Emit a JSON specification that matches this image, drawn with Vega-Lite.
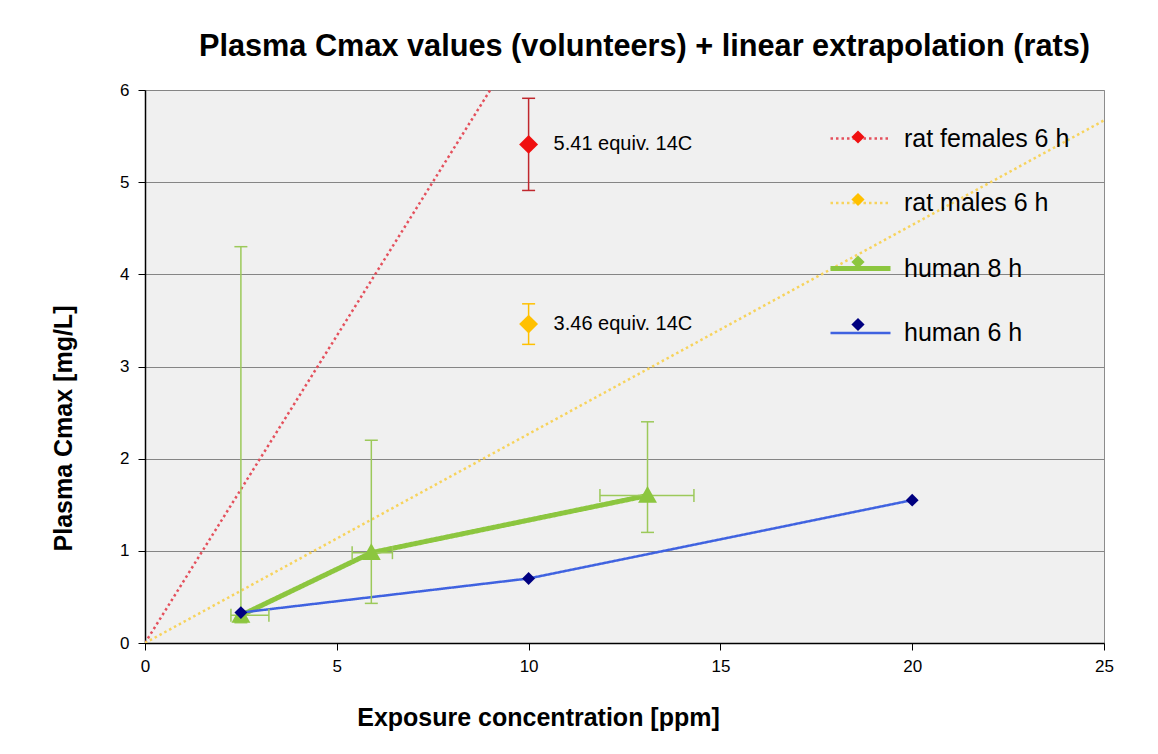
{
  "$schema": "https://vega.github.io/schema/vega-lite/v6.json",
  "width": 959,
  "height": 553,
  "autosize": "none",
  "padding": {"left": 145, "top": 90, "right": 54, "bottom": 111},
  "background": "#ffffff",
  "title": {
    "text": "Plasma Cmax values (volunteers) + linear extrapolation (rats)",
    "font": "Liberation Sans",
    "fontSize": 30.7,
    "fontWeight": "bold",
    "color": "#000000",
    "anchor": "middle",
    "dx": 20,
    "offset": 18
  },
  "config": {
    "view": {"fill": "#f0f0f0", "stroke": "#8c8c8c", "strokeWidth": 1},
    "axis": {
      "labelFont": "Liberation Sans",
      "labelFontSize": 17,
      "labelColor": "#000000",
      "titleFont": "Liberation Sans",
      "titleFontWeight": "bold",
      "titleColor": "#000000",
      "domainColor": "#000000",
      "domainWidth": 1.5,
      "tickColor": "#000000",
      "tickSize": 7,
      "labelFlush": false
    },
    "legend": {
      "orient": "none", "legendX": 683, "legendY": 17, "title": null, "padding": 0,
      "symbolSize": 3600, "rowPadding": 19.5, "labelOffset": 11,
      "labelFont": "Liberation Sans", "labelFontSize": 25, "labelColor": "#000000", "labelLimit": 400
    }
  },
  "datasets": {
    "lines": [
      {"series": "rat females 6 h", "x": 0, "y": 0},
      {"series": "rat females 6 h", "x": 9, "y": 6},
      {"series": "rat males 6 h", "x": 0, "y": 0},
      {"series": "rat males 6 h", "x": 25, "y": 5.67},
      {"series": "human 8 h", "x": 2.5, "y": 0.3},
      {"series": "human 8 h", "x": 5.9, "y": 0.98},
      {"series": "human 8 h", "x": 13.1, "y": 1.6},
      {"series": "human 6 h", "x": 2.5, "y": 0.33},
      {"series": "human 6 h", "x": 10, "y": 0.7},
      {"series": "human 6 h", "x": 20, "y": 1.55}
    ],
    "points": [
      {"series": "rat females 6 h", "x": 10, "y": 5.41},
      {"series": "rat males 6 h", "x": 10, "y": 3.46},
      {"series": "human 8 h", "x": 2.5, "y": 0.3},
      {"series": "human 8 h", "x": 5.9, "y": 0.98},
      {"series": "human 8 h", "x": 13.1, "y": 1.6},
      {"series": "human 6 h", "x": 2.5, "y": 0.33},
      {"series": "human 6 h", "x": 10, "y": 0.7},
      {"series": "human 6 h", "x": 20, "y": 1.55}
    ],
    "verr": [
      {"series": "rat females 6 h", "x": 10, "lo": 4.91, "hi": 5.91},
      {"series": "rat males 6 h", "x": 10, "lo": 3.24, "hi": 3.68},
      {"series": "human 8 h", "x": 2.5, "lo": 0.22, "hi": 4.3},
      {"series": "human 8 h", "x": 5.9, "lo": 0.43, "hi": 2.2},
      {"series": "human 8 h", "x": 13.1, "lo": 1.2, "hi": 2.4}
    ],
    "herr": [
      {"series": "human 8 h", "y": 0.3, "lo": 2.24, "hi": 3.23},
      {"series": "human 8 h", "y": 0.98, "lo": 5.4, "hi": 6.45},
      {"series": "human 8 h", "y": 1.6, "lo": 11.86, "hi": 14.31}
    ],
    "notes": [
      {"x": 10, "y": 5.41, "label": "5.41 equiv. 14C"},
      {"x": 10, "y": 3.46, "label": "3.46 equiv. 14C"}
    ]
  },
  "layer": [
    {
      "data": {"name": "lines"},
      "mark": {"type": "line", "strokeCap": "butt", "clip": true},
      "encoding": {
        "x": {"field": "x", "type": "quantitative", "scale": {"domain": [0, 25], "nice": false},
          "axis": {"values": [0, 5, 10, 15, 20, 25], "format": "d", "grid": false, "title": "Exposure concentration  [ppm]", "titleFontSize": 25, "titleX": 393, "labelPadding": 8, "titlePadding": 31}},
        "y": {"field": "y", "type": "quantitative", "scale": {"domain": [0, 6], "nice": false},
          "axis": {"values": [0, 1, 2, 3, 4, 5, 6], "format": "d", "grid": true, "gridColor": "#858585", "gridWidth": 1, "title": "Plasma Cmax [mg/L]", "titleFontSize": 25, "titleY": 338, "labelPadding": 9, "titlePadding": 43}},
        "stroke": {"field": "series", "type": "nominal",
          "sort": {"field": "y", "op": "max", "order": "descending"},
          "scale": {"range": ["#e4505c", "#f7d35c", "#8cc63f", "#3f62e0"]},
          "legend": {"symbolType": "stroke"}
        },
        "strokeDash": {"field": "series", "type": "nominal",
          "sort": {"field": "y", "op": "max", "order": "descending"},
          "scale": {"range": [[2.5, 3], [2.5, 3], [1, 0], [1, 0]]},
          "legend": {"symbolType": "stroke"}
        },
        "strokeWidth": {"field": "series", "type": "nominal",
          "sort": {"field": "y", "op": "max", "order": "descending"},
          "scale": {"type": "ordinal", "range": [2.5, 2.5, 5, 2.5]},
          "legend": {"symbolType": "stroke"}
        }
      }
    },
    {
      "data": {"name": "verr"},
      "mark": {"type": "rule", "strokeWidth": 1.5},
      "encoding": {
        "x": {"field": "x", "type": "quantitative"},
        "y": {"field": "lo", "type": "quantitative"},
        "y2": {"field": "hi"},
        "color": {"field": "series", "type": "nominal",
          "scale": {"domain": ["rat females 6 h", "rat males 6 h", "human 8 h", "human 6 h"], "range": ["#c0272d", "#ffc000", "#9cc95a", "#3f62e0"]},
          "legend": null}
      }
    },
    {
      "data": {"name": "verr"},
      "mark": {"type": "tick", "orient": "horizontal", "size": 13, "thickness": 1.5, "opacity": 1},
      "encoding": {
        "x": {"field": "x", "type": "quantitative"},
        "y": {"field": "lo", "type": "quantitative"},
        "color": {"field": "series", "type": "nominal", "legend": null}
      }
    },
    {
      "data": {"name": "verr"},
      "mark": {"type": "tick", "orient": "horizontal", "size": 13, "thickness": 1.5, "opacity": 1},
      "encoding": {
        "x": {"field": "x", "type": "quantitative"},
        "y": {"field": "hi", "type": "quantitative"},
        "color": {"field": "series", "type": "nominal", "legend": null}
      }
    },
    {
      "data": {"name": "herr"},
      "mark": {"type": "rule", "strokeWidth": 1.5},
      "encoding": {
        "y": {"field": "y", "type": "quantitative"},
        "x": {"field": "lo", "type": "quantitative"},
        "x2": {"field": "hi"},
        "color": {"field": "series", "type": "nominal", "legend": null}
      }
    },
    {
      "data": {"name": "herr"},
      "mark": {"type": "tick", "orient": "vertical", "size": 13, "thickness": 1.5, "opacity": 1},
      "encoding": {
        "x": {"field": "lo", "type": "quantitative"},
        "y": {"field": "y", "type": "quantitative"},
        "color": {"field": "series", "type": "nominal", "legend": null}
      }
    },
    {
      "data": {"name": "herr"},
      "mark": {"type": "tick", "orient": "vertical", "size": 13, "thickness": 1.5, "opacity": 1},
      "encoding": {
        "x": {"field": "hi", "type": "quantitative"},
        "y": {"field": "y", "type": "quantitative"},
        "color": {"field": "series", "type": "nominal", "legend": null}
      }
    },
    {
      "data": {"name": "points"},
      "mark": {"type": "point", "filled": true, "opacity": 1, "size": 7400, "strokeWidth": 0},
      "encoding": {
        "x": {"field": "x", "type": "quantitative"},
        "y": {"field": "y", "type": "quantitative"},
        "shape": {"field": "series", "type": "nominal",
          "scale": {"domain": ["rat females 6 h", "rat males 6 h", "human 8 h", "human 6 h"],
            "range": ["M0,-0.22L0.22,0L0,0.22L-0.22,0Z", "M0,-0.22L0.22,0L0,0.22L-0.22,0Z", "M-0.22,0.17L0,-0.22L0.22,0.17Z", "M0,-0.15L0.15,0L0,0.15L-0.15,0Z"]},
          "legend": null
        },
        "fill": {"field": "series", "type": "nominal",
          "sort": ["rat females 6 h", "rat males 6 h", "human 8 h", "human 6 h"],
          "scale": {"range": ["#f01010", "#ffc000", "#8cc63f", "#000080"]},
          "legend": {"labelOpacity": 0, "symbolType": "M0,-0.22L0.22,0L0,0.22L-0.22,0Z", "symbolStrokeWidth": 0}
        }
      }
    },
    {
      "data": {"name": "notes"},
      "mark": {"type": "text", "align": "left", "baseline": "middle", "dx": 25, "font": "Liberation Sans", "fontSize": 20, "color": "#000000"},
      "encoding": {
        "x": {"field": "x", "type": "quantitative"},
        "y": {"field": "y", "type": "quantitative"},
        "text": {"field": "label"}
      }
    }
  ]
}
